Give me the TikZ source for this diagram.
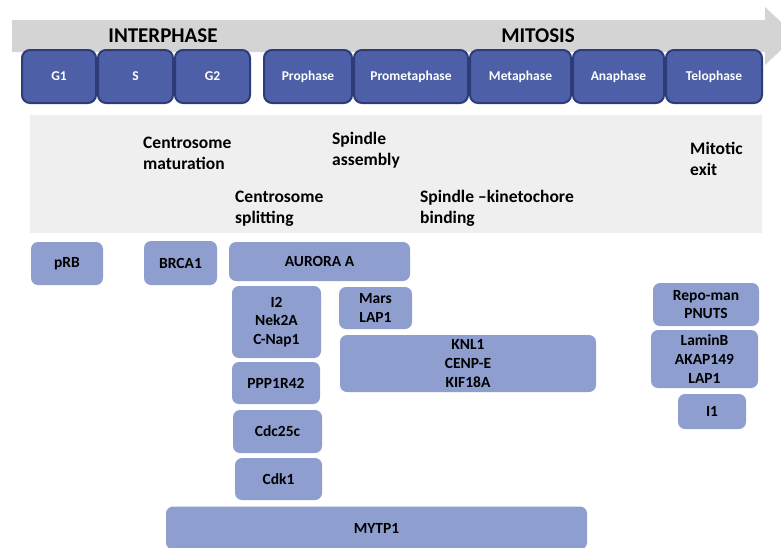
\documentclass[tikz,border=0pt]{standalone}
\usepackage{fontspec}
\setmainfont{Carlito}
\definecolor{bandgray}{HTML}{D4D4D4}
\definecolor{panelgray}{HTML}{EFEFEF}
\definecolor{phasefill}{HTML}{4D5FA7}
\definecolor{phaseline}{HTML}{2D3C79}
\definecolor{protfill}{HTML}{8E9ECF}
\begin{document}
\begin{tikzpicture}[x=1pt,y=-1pt,
  phasebox/.style={draw=phaseline,line width=2pt,fill=phasefill,rounded corners=8pt,
    text=white,font=\bfseries\fontsize{13.5}{16}\selectfont,inner sep=0pt,align=center},
  protbox/.style={fill=protfill,rounded corners=7pt,text=black,
    font=\bfseries\fontsize{15.5}{18.8}\selectfont,inner sep=0pt,align=center},
  stagelabel/.style={anchor=west,align=left,inner sep=0pt,
    font=\bfseries\fontsize{17.5}{21}\selectfont},
  headlabel/.style={inner sep=0pt,font=\bfseries\fontsize{21}{24}\selectfont}]
\useasboundingbox (0,0) rectangle (781,547);
\clip (0,0) rectangle (781,547);
% arrow band
\fill[bandgray] (12,20) -- (765,20) -- (765,7) -- (796,36) -- (765,65) -- (765,52) -- (12,52) -- cycle;
\node[headlabel] (interphase) at (163,36) {INTERPHASE};
\node[headlabel] (mitosis) at (538,36) {MITOSIS};
% phase boxes
\node[phasebox,minimum width=74pt,minimum height=53pt] (g1) at (59,76.5) {G1};
\node[phasebox,minimum width=75pt,minimum height=53pt] (s) at (135.5,76.5) {S};
\node[phasebox,minimum width=75pt,minimum height=53pt] (g2) at (212.5,76.5) {G2};
\node[phasebox,minimum width=88pt,minimum height=53pt] (pro) at (308,76.5) {Prophase};
\node[phasebox,minimum width=114pt,minimum height=53pt] (prometa) at (411,76.5) {Prometaphase};
\node[phasebox,minimum width=101pt,minimum height=53pt] (meta) at (520.5,76.5) {Metaphase};
\node[phasebox,minimum width=91pt,minimum height=53pt] (ana) at (618.5,76.5) {Anaphase};
\node[phasebox,minimum width=96pt,minimum height=53pt] (telo) at (714,76.5) {Telophase};
% panel
\fill[panelgray] (30,115) rectangle (762,233);
\node[stagelabel] (cmat) at (143,153) {Centrosome\\maturation};
\node[stagelabel] (spas) at (332,150) {Spindle\\assembly};
\node[stagelabel] (csplit) at (235,209) {Centrosome\\splitting};
\node[stagelabel] (skb) at (420,208) {Spindle --kinetochore\\binding};
\node[stagelabel] (mexit) at (690,159) {Mitotic\\exit};
% proteins
\node[protbox,minimum width=72pt,minimum height=43pt] (prb) at (67,263.5) {pRB};
\node[protbox,minimum width=73pt,minimum height=44pt] (brca) at (180.5,263) {BRCA1};
\node[protbox,minimum width=181pt,minimum height=39pt] (aur) at (319.5,261.5) {AURORA A};
\node[protbox,minimum width=89pt,minimum height=72pt] (i2) at (276.5,322) {I2\\Nek2A\\C-Nap1};
\node[protbox,minimum width=73pt,minimum height=42pt] (mars) at (375.5,308) {Mars\\LAP1};
\node[protbox,minimum width=256pt,minimum height=57pt] (knl) at (468,363.5) {KNL1\\CENP-E\\KIF18A};
\node[protbox,minimum width=88pt,minimum height=42pt] (ppp) at (276,383) {PPP1R42};
\node[protbox,minimum width=89pt,minimum height=43pt] (cdc) at (277.5,431.5) {Cdc25c};
\node[protbox,minimum width=87pt,minimum height=42pt] (cdk) at (278.5,479) {Cdk1};
\node[protbox,minimum width=421pt,minimum height=43pt] (mytp) at (376.5,528) {MYTP1};
\node[protbox,minimum width=106pt,minimum height=43pt] (repo) at (706,304.5) {Repo-man\\PNUTS};
\node[protbox,minimum width=107pt,minimum height=58pt] (lamin) at (704.5,359) {LaminB\\AKAP149\\LAP1};
\node[protbox,minimum width=68pt,minimum height=35pt] (i1) at (712,411.5) {I1};
\end{tikzpicture}
\end{document}
